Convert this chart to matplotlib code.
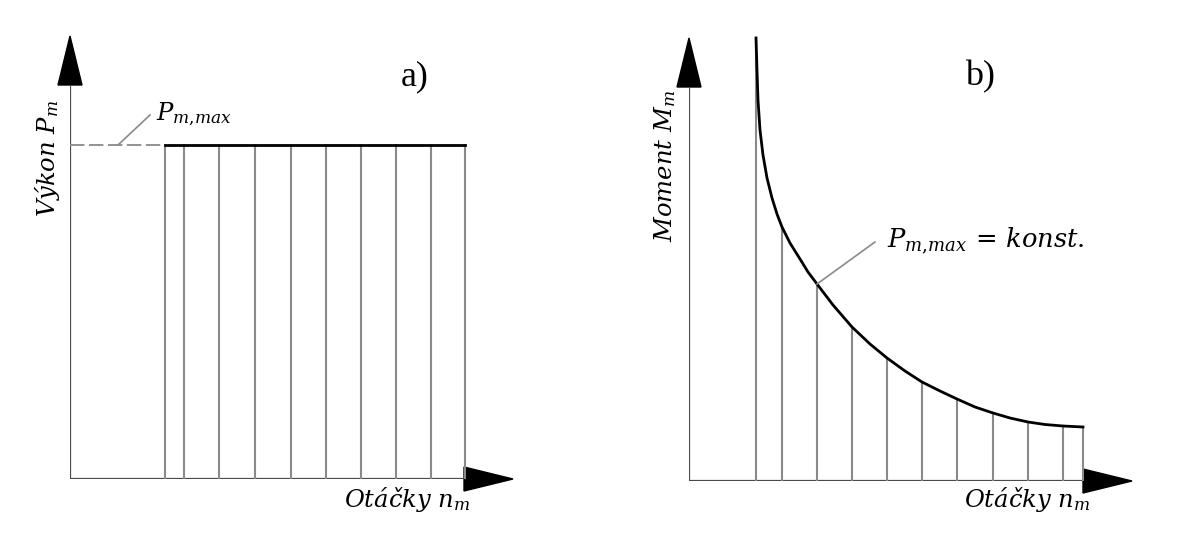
import matplotlib
matplotlib.use("Agg")
import matplotlib.pyplot as plt
from matplotlib.patches import Polygon

plt.rcParams["mathtext.fontset"] = "dejavuserif"

# ---- panel a: power vs. speed ----
speed_lines_a = [9.5, 11.4, 14.9, 18.5, 22.1, 25.6, 29.1, 32.6, 36.1, 39.5]
power_max = 33.4

# ---- panel b: torque vs. speed (constant power) ----
speed_lines_b = [6.7, 9.3, 12.8, 16.3, 19.8, 23.3, 26.8, 30.4, 33.9, 37.4, 39.4]
torque_lines_b = [44.3, 25.4, 19.7, 15.4, 12.3, 9.9, 8.2, 6.8, 5.9, 5.5, 5.4]
curve_speed = [6.7, 6.8, 6.9, 7.1, 7.4, 7.8, 8.3, 8.8, 9.3, 10.1, 11.1, 11.9,
               12.8, 14.4, 16.3, 18.1, 19.8, 21.6, 23.3, 25.1, 26.8, 28.6,
               30.4, 32.1, 33.9, 35.6, 37.4, 39.4]
curve_torque = [44.3, 41.1, 38.1, 35.1, 32.6, 30.3, 28.3, 26.7, 25.4, 23.8,
                22.2, 20.9, 19.7, 17.6, 15.4, 13.7, 12.3, 11.0, 9.9, 9.0, 8.2,
                7.4, 6.8, 6.3, 5.9, 5.65, 5.5, 5.4]

W, H = 1189, 537
fig = plt.figure(figsize=(W / 100, H / 100), dpi=100)

AXIS_END = 39.4      # where the axis arrow heads begin
HEAD_LEN = 4.9
HEAD_HALF = 1.2
AX_COL = "#4a4a4a"
GRID_COL = "#8a8a8a"
LABEL_FS = 17.5
ITALIC = dict(family="DejaVu Serif", style="italic")


def make_axes(origin_x, origin_y):
    ax = fig.add_axes([origin_x / W, (H - origin_y) / H, 460 / W, 454 / H])
    ax.set_xlim(0, 46)
    ax.set_ylim(0, 45.4)
    ax.axis("off")
    # axes with arrow heads
    ax.plot([0, 0], [0, AXIS_END], color=AX_COL, lw=1.6, solid_capstyle="butt")
    ax.plot([0, AXIS_END], [0, 0], color=AX_COL, lw=1.6, solid_capstyle="butt")
    ax.add_patch(Polygon([[-HEAD_HALF, AXIS_END], [HEAD_HALF, AXIS_END],
                          [0, AXIS_END + HEAD_LEN]], closed=True,
                         color="black", clip_on=False))
    ax.add_patch(Polygon([[AXIS_END, -HEAD_HALF], [AXIS_END, HEAD_HALF],
                          [AXIS_END + HEAD_LEN, 0]], closed=True,
                         color="black", clip_on=False))
    return ax


# panel a
ax_a = make_axes(70, 479)
for n in speed_lines_a:
    ax_a.plot([n, n], [0, power_max], color=GRID_COL, lw=1.5)
ax_a.plot([speed_lines_a[0], speed_lines_a[-1]], [power_max, power_max],
          color="black", lw=2.0)
ax_a.plot([0, speed_lines_a[0]], [power_max, power_max], color=GRID_COL,
          lw=1.3, dashes=(8, 2.5))
ax_a.plot([4.8, 8.0], [power_max, 36.4], color=GRID_COL, lw=1.2)
ax_a.text(8.6, 36.5, r"$P_{m{,}max}$", fontsize=LABEL_FS, ha="left",
          va="center")
ax_a.text(34.5, 40.2, "a)", fontsize=26, family="Liberation Serif",
          ha="center", va="center")
ax_a.text(-2.2, 32.1, r"Výkon $P_m$", fontsize=LABEL_FS, rotation=90,
          ha="center", va="center", **ITALIC)
ax_a.text(40.0, -2.0, r"Otáčky $n_m$", fontsize=LABEL_FS, ha="right",
          va="center", **ITALIC)

# panel b
ax_b = make_axes(689, 481)
for n, m in zip(speed_lines_b, torque_lines_b):
    ax_b.plot([n, n], [0, m], color=GRID_COL, lw=1.5)
ax_b.plot(curve_speed, curve_torque, color="black", lw=2.0,
          solid_joinstyle="round")
ax_b.plot([12.8, 18.6], [19.7, 23.9], color=GRID_COL, lw=1.2)
ax_b.text(19.8, 24.0, r"$P_{m{,}max}\,=\,konst.$", fontsize=18.5, ha="left",
          va="center")
ax_b.text(29.1, 40.4, "b)", fontsize=26, family="Liberation Serif",
          ha="center", va="center")
ax_b.text(-2.4, 31.5, r"Moment $M_m$", fontsize=LABEL_FS, rotation=90,
          ha="center", va="center", **ITALIC)
ax_b.text(40.1, -1.8, r"Otáčky $n_m$", fontsize=LABEL_FS, ha="right",
          va="center", **ITALIC)

fig.savefig("out.png", dpi=100, facecolor="white")
